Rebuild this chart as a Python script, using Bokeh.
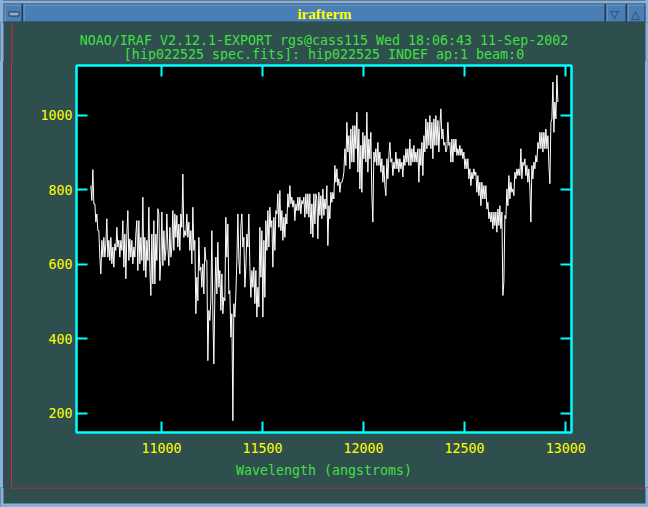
import numpy as np
from bokeh.plotting import figure
from bokeh.models import FixedTicker, LinearAxis, Range1d
from bokeh.layouts import column, row
from bokeh.core.properties import value
from bokeh.embed import file_html
from bokeh.resources import INLINE

# ---------------- data ----------------
start_wavelength = 10650.0   # first sample (angstroms)
wavelength_step = 4.95       # dispersion per sample (angstroms)
flux = [
    811, 771, 854, 762, 762, 713, 735, 690, 690, 619,
    574, 664, 619, 672, 619, 655, 722, 619, 664, 610,
    672, 601, 646, 592, 655, 637, 699, 646, 664, 619,
    664, 637, 717, 592, 681, 561, 681, 744, 610, 668,
    619, 664, 601, 646, 619, 681, 717, 583, 717, 601,
    672, 610, 780, 583, 672, 565, 664, 610, 753, 592,
    516, 681, 547, 717, 547, 681, 610, 749, 735, 556,
    610, 740, 596, 690, 610, 637, 735, 646, 596, 699,
    619, 646, 744, 637, 735, 672, 731, 646, 708, 637,
    735, 699, 842, 672, 690, 677, 735, 672, 713, 637,
    690, 601, 753, 637, 664, 467, 565, 502, 672, 583,
    592, 538, 601, 520, 646, 610,
    610, 341, 476, 449, 502, 690, 467, 332, 520, 619,
    520, 659, 538, 583, 476, 574, 467, 511, 502, 726,
    619, 708, 520, 529, 404, 467, 180, 494, 458, 520,
    610, 735, 610, 574, 699, 735, 646, 672, 538, 592,
    681, 646, 735, 592, 511, 583, 538, 592, 494, 583,
    458, 538, 485, 699, 565, 690, 458, 664, 511, 717,
    637, 744, 646, 753, 699, 717, 592, 726, 637, 744,
    735, 789, 699, 798, 690, 744, 664, 726, 672, 735,
    708, 789, 753, 811, 762, 780, 753, 771, 717, 762,
    744, 780, 744, 780, 735, 771, 762, 780, 726, 789,
    735, 789, 726, 789, 681, 762, 672, 789, 708, 789,
    775, 668, 793, 731, 784, 722, 802, 731, 775, 748, 811, 650,
    757, 722, 793, 766, 793, 775, 865, 820, 856, 811,
    829, 793, 820, 820, 829, 847, 910, 865, 981, 901,
    945, 856, 963, 874, 972, 874, 972, 910, 1008, 847,
    963, 802, 919, 793, 954, 883, 945, 874, 1008, 847,
    936, 883, 954, 784, 713, 901, 874, 910, 865, 927,
    865, 901, 847, 883, 820, 865, 811, 784, 883, 829,
    892, 927, 874, 883, 838, 874, 856, 901, 856, 883,
    847, 883, 856, 874, 834, 892, 865, 910, 874, 910,
    865, 936, 865, 910, 874, 919, 874, 901, 874, 910,
    820, 910, 865, 927, 838, 945, 901, 990, 910, 981,
    919, 999, 910, 981, 883, 990, 919,
    999, 919, 986, 901, 972, 1017, 936, 963, 919, 927,
    901, 910, 981, 919, 927, 874, 936, 874, 936, 901,
    936, 892, 910, 892, 919, 892, 910, 883, 901, 856,
    883, 856, 883, 829, 856, 811, 847, 829, 856, 838,
    847, 793, 838, 784, 820, 757, 820, 775, 811, 775,
    811, 748, 766, 722, 740, 713, 740, 695, 740, 704,
    740, 686, 748, 704, 757, 695, 740, 516, 552, 731,
    722, 802, 757, 838, 775, 820, 793, 802, 784, 847,
    829, 856, 838, 856, 838, 910, 829, 874, 865, 883,
    838, 865, 820, 856, 802, 713, 865, 829, 874, 856,
    892, 874, 927, 910, 954, 910, 954, 901, 954, 910,
    963, 910, 945, 865, 816, 981, 990, 1089, 954, 1035,
    990, 1107, 1035,
]
wavelength = start_wavelength + wavelength_step * np.arange(len(flux))

x_ticks = [11000, 11500, 12000, 12500, 13000]
y_ticks = [200, 400, 600, 800, 1000]
x_limits = (10579, 13029)
y_limits = (148.2, 1133.4)

window_title = "irafterm"
title_line1 = "NOAO/IRAF V2.12.1-EXPORT rgs@cass115 Wed 18:06:43 11-Sep-2002"
title_line2 = "[hip022525_spec.fits]: hip022525 INDEF ap:1 beam:0"
x_label = "Wavelength (angstroms)"

# ---------------- styling ----------------
CYAN = "#00ffff"
YELLOW = "#ffff00"
GREEN = "#3fe03f"
SLATE = "#2f4f4f"
BAR = "#4a7fb5"
BAR_DARK = "#22384f"
BAR_LIGHT = "#8ab0dc"
BAR_HI = "#79a3d2"
RED = "#d0283c"
MONO = "DejaVu Sans Mono"
FS = "13.3px"

WIN_W = 648
BAR_H, HEAD_H, MAIN_H, FOOT_H = 22, 39, 426, 20
LEFT_W, RIGHT_W = 12, 3
MAIN_W = WIN_W - LEFT_W - RIGHT_W

# window side edges (light border, red inner rule) drawn as the page background
window_edges = ("linear-gradient(to right, "
                f"{BAR_LIGHT} 0px, {BAR_LIGHT} 3px, {SLATE} 3px, {SLATE} 11px, "
                f"{RED} 11px, {RED} 12px, {SLATE} 12px, {SLATE} 645px, "
                f"{BAR_LIGHT} 645px, {BAR_LIGHT} 648px)")


def blank(w, h, bg=SLATE):
    f = figure(width=w, height=h, output_backend="svg", toolbar_location=None,
               tools="", title=None, x_range=Range1d(0, w), y_range=Range1d(h, 0),
               x_axis_location=None, y_axis_location=None, min_border=0)
    f.background_fill_color = bg
    f.border_fill_color = bg
    f.outline_line_color = None
    f.grid.visible = False
    return f


def boxes(f, rects):
    f.quad(left=[r[0] for r in rects], top=[r[1] for r in rects],
           right=[r[2] for r in rects], bottom=[r[3] for r in rects],
           fill_color=[r[4] for r in rects], line_color=None)


# ---- title bar (window y 0..22)
bar = blank(WIN_W, BAR_H, BAR_LIGHT)
boxes(bar, [
    (3, 3, 645, 22, BAR_DARK),
    (4, 4, 21, 21, BAR), (23, 4, 604, 21, BAR),
    (606, 4, 625, 21, BAR), (627, 4, 644, 21, BAR),
    (4, 4, 21, 5, BAR_HI), (23, 4, 604, 5, BAR_HI),
    (606, 4, 625, 5, BAR_HI), (627, 4, 644, 5, BAR_HI),
    (4, 4, 5, 21, BAR_HI), (23, 4, 24, 21, BAR_HI),
    (606, 4, 607, 21, BAR_HI), (627, 4, 628, 21, BAR_HI),
])
bar.quad(left=[8.5], right=[18.5], top=[11.5], bottom=[15.5],
         fill_color=BAR_LIGHT, line_color=BAR_DARK, line_width=1)
bar.text(x=[614, 635], y=[13.5, 13.5], text=["\u25bd", "\u25b3"], text_color=BAR_DARK,
         text_font=value("DejaVu Sans"), text_font_size="11px",
         text_align="center", text_baseline="alphabetic")
bar.text(x=[324], y=[13], text=[window_title], text_color=YELLOW,
         text_font=value("Liberation Serif"), text_font_style="bold",
         text_font_size="15px", text_align="center", text_baseline="alphabetic")

# ---- header with the plot titles (window y 22..61)
head = blank(WIN_W, HEAD_H)
boxes(head, [
    (0, 0, 3, HEAD_H, BAR_LIGHT), (645, 0, 648, HEAD_H, BAR_LIGHT),
    (11, 1, 12, HEAD_H, RED),
])
head.text(x=[323.5, 323.5], y=[18.2, 32.1], text=[title_line1, title_line2],
          text_color=GREEN, text_font=value(MONO), text_font_size=FS,
          text_align="center", text_baseline="alphabetic")

# ---- footer (window y 487..507)
foot = blank(WIN_W, FOOT_H)
boxes(foot, [
    (0, 0, 3, FOOT_H, BAR_LIGHT), (645, 0, 648, FOOT_H, BAR_LIGHT),
    (0, 16, 648, FOOT_H, BAR_LIGHT),
    (11, 0, 645, 1, RED),
])

# ---- the spectrum plot (window x 12..645, y 61..487)
p = figure(width=MAIN_W, height=MAIN_H, output_backend="svg", toolbar_location=None,
           tools="", title=None,
           x_range=Range1d(*x_limits), y_range=Range1d(*y_limits),
           x_axis_location=None, y_axis_location=None)
p.margin = (0, RIGHT_W, 0, LEFT_W)
p.min_border_left = 64
p.min_border_right = 74
p.min_border_top = 4
p.min_border_bottom = 55
p.background_fill_color = "black"
p.border_fill_color = SLATE
p.outline_line_color = CYAN
p.outline_line_width = 2
p.grid.visible = False


def make_axis(ticks, labels):
    ax = LinearAxis(ticker=FixedTicker(ticks=ticks))
    ax.axis_line_color = CYAN
    ax.axis_line_width = 2
    ax.major_tick_line_color = CYAN
    ax.major_tick_line_width = 2
    ax.major_tick_in = 11
    ax.major_tick_out = 0
    ax.minor_tick_line_color = None
    ax.major_label_text_color = YELLOW
    ax.major_label_text_font = MONO
    ax.major_label_text_font_size = FS
    if not labels:
        ax.major_label_overrides = {t: "" for t in ticks}
        ax.major_label_text_font_size = "0px"
        ax.major_label_standoff = 0
    return ax


bottom_axis = make_axis(x_ticks, True)
bottom_axis.major_label_standoff = 10
bottom_axis.axis_label = x_label
bottom_axis.axis_label_text_color = GREEN
bottom_axis.axis_label_text_font = MONO
bottom_axis.axis_label_text_font_size = FS
bottom_axis.axis_label_text_font_style = "normal"
bottom_axis.axis_label_standoff = 7
left_axis = make_axis(y_ticks, True)
left_axis.major_label_standoff = 4
p.add_layout(bottom_axis, "below")
p.add_layout(left_axis, "left")
p.add_layout(make_axis(x_ticks, False), "above")
p.add_layout(make_axis(y_ticks, False), "right")

p.line(wavelength, flux, line_color="white", line_width=1)

layout = column(bar, head, row(p, spacing=0), foot, spacing=0,
                styles={"background-color": SLATE, "background-image": window_edges})
open("out.html", "w").write(file_html(layout, INLINE))
